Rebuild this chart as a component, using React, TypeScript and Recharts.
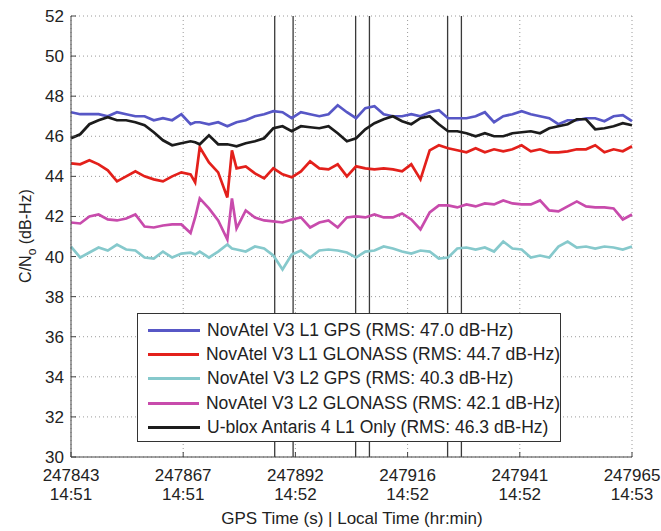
import { CartesianGrid, Legend, Line, LineChart, ReferenceLine, XAxis, YAxis } from "recharts";

// GPS time of week (s); 2 s steps, plus two extra samples where the L1/L2 GLONASS traces spike
const gpsTime = [
  247843, 247845, 247847, 247849, 247851, 247853, 247855, 247857, 247859, 247861, 247863, 247865, 247867, 247869,
  247870, 247871, 247873, 247875, 247877, 247878, 247879, 247881, 247883, 247885, 247887, 247889, 247891, 247893,
  247895, 247897, 247899, 247901, 247903, 247905, 247907, 247909, 247911, 247913, 247915, 247917, 247919, 247921,
  247923, 247925, 247927, 247929, 247931, 247933, 247935, 247937, 247939, 247941, 247943, 247945, 247947, 247949,
  247951, 247953, 247955, 247957, 247959, 247961, 247963, 247965,
];

const l1Gps = [
  47.2, 47.1, 47.1, 47.1, 47.0, 47.2, 47.1, 47.0, 47.0, 46.8, 46.9, 46.8, 47.1, 46.6,
  46.7, 46.7, 46.6, 46.7, 46.5, 46.6,
  46.7, 46.8, 47.0, 47.1, 47.25, 47.2, 46.9, 47.2, 47.1, 47.0, 47.1, 47.55, 47.2, 46.9, 47.4, 47.5, 47.1, 47.0,
  47.0, 47.1, 47.0, 47.2, 47.3, 46.9, 46.9, 46.9, 47.0, 47.2, 46.7, 47.0, 47.1, 47.25, 47.1, 47.0, 46.9, 46.6,
  46.8, 46.8, 46.9, 46.9, 46.75, 47.0, 47.05, 46.75,
];

const l1Glonass = [
  44.65, 44.6, 44.8, 44.6, 44.3, 43.75, 44.0, 44.25, 44.0, 43.85, 43.75, 44.0, 44.2, 44.1,
  43.7, 45.45, 44.7, 44.2, 42.95, 45.3,
  44.4, 44.5, 44.15, 43.9, 44.4, 44.1, 43.95, 44.25, 44.75, 44.4, 44.35, 44.6, 44.0, 44.5, 44.4, 44.35, 44.4, 44.35,
  44.25, 44.6, 43.85, 45.3, 45.55, 45.4, 45.3, 45.2, 45.4, 45.2, 45.35, 45.25, 45.35, 45.55, 45.25, 45.35, 45.2, 45.2,
  45.25, 45.35, 45.35, 45.55, 45.2, 45.35, 45.25, 45.5,
];

const l2Gps = [
  40.5, 39.95, 40.2, 40.45, 40.3, 40.6, 40.35, 40.3, 39.95, 39.9, 40.25, 39.95, 40.15, 40.2,
  40.1, 40.25, 39.95, 40.25, 40.6, 40.4,
  40.35, 40.25, 40.5, 40.4, 40.05, 39.35, 40.1, 40.3, 39.95, 40.3, 40.35, 40.3, 40.2, 39.95, 40.25, 40.3, 40.5, 40.4,
  40.25, 40.15, 40.3, 40.25, 39.9, 39.95, 40.4, 40.45, 40.35, 40.45, 40.25, 40.75, 40.4, 40.35, 39.95, 40.05, 39.95, 40.5,
  40.75, 40.45, 40.5, 40.4, 40.5, 40.45, 40.35, 40.5,
];

const l2Glonass = [
  41.7, 41.65, 42.0, 42.1, 41.85, 41.8, 41.9, 42.1, 41.5, 41.45, 41.55, 41.6, 41.6, 41.17,
  41.95, 42.9, 42.4, 41.8, 40.85, 42.9,
  41.4, 42.3, 41.95, 41.8, 41.75, 41.7, 41.85, 41.95, 41.45, 41.7, 41.8, 41.45, 41.95, 42.0, 41.95, 42.1, 41.95, 41.95,
  42.15, 41.85, 41.35, 42.2, 42.55, 42.55, 42.45, 42.6, 42.5, 42.65, 42.6, 42.8, 42.65, 42.6, 42.6, 42.8, 42.3, 42.25,
  42.5, 42.75, 42.5, 42.45, 42.45, 42.4, 41.85, 42.1,
];

const antaris = [
  45.9, 46.1, 46.6, 46.8, 46.95, 46.8, 46.8, 46.7, 46.55, 46.2, 45.8, 45.55, 45.65, 45.75,
  45.7, 45.6, 46.05, 45.6, 45.6, 45.55,
  45.5, 45.65, 45.75, 45.9, 46.4, 46.5, 46.25, 46.5, 46.45, 46.4, 46.5, 46.15, 45.75, 45.9, 46.35, 46.65, 46.85, 47.0,
  46.75, 46.6, 46.9, 47.0, 46.6, 46.25, 46.25, 46.15, 46.0, 46.15, 46.0, 46.0, 46.15, 46.2, 46.25, 46.15, 46.4, 46.5,
  46.6, 46.85, 46.85, 46.35, 46.4, 46.5, 46.65, 46.55,
];

const seriesNames = [
  "NovAtel V3 L1 GPS (RMS: 47.0 dB-Hz)",
  "NovAtel V3 L1 GLONASS (RMS: 44.7 dB-Hz)",
  "NovAtel V3 L2 GPS (RMS: 40.3 dB-Hz)",
  "NovAtel V3 L2 GLONASS (RMS: 42.1 dB-Hz)",
  "U-blox Antaris 4 L1 Only (RMS: 46.3 dB-Hz)",
];

const xTicks = [247843, 247867.4, 247891.8, 247916.2, 247940.6, 247965];
const gpsTickLabels = ["247843", "247867", "247892", "247916", "247941", "247965"];
const localTickLabels = ["14:51", "14:51", "14:52", "14:52", "14:52", "14:53"];
const yTicks = [30, 32, 34, 36, 38, 40, 42, 44, 46, 48, 50, 52];
const markerTimes = [247887.3, 247891.3, 247904.9, 247907.9, 247924.9, 247927.9];

const data = gpsTime.map((t, i) => ({
  t,
  l1Gps: l1Gps[i],
  l1Glonass: l1Glonass[i],
  l2Gps: l2Gps[i],
  l2Glonass: l2Glonass[i],
  antaris: antaris[i],
}));

const FONT = '"Liberation Sans", Arial, Helvetica, sans-serif';
const INK = "#222";

function TimeTick({ x, y, index }: { x?: number; y?: number; index?: number }) {
  const i = index ?? 0;
  return (
    <g fontFamily={FONT} fontSize={17} fill={INK}>
      <text x={x} y={(y ?? 0) + 29} textAnchor="middle">
        {gpsTickLabels[i]}
      </text>
      <text x={x} y={(y ?? 0) + 48} textAnchor="middle">
        {localTickLabels[i]}
      </text>
    </g>
  );
}

function BoxLegend({ payload }: { payload?: Array<{ value?: string; color?: string }> }) {
  // keep the plotting order, not recharts' alphabetical one
  const items = [...(payload ?? [])].sort(
    (a, b) => seriesNames.indexOf(a.value ?? "") - seriesNames.indexOf(b.value ?? "")
  );
  return (
    <div
      style={{
        boxSizing: "border-box",
        width: 424,
        height: 129,
        border: "1px solid #333",
        background: "#fff",
        paddingTop: 4,
        fontFamily: FONT,
        fontSize: 17.5,
        color: INK,
      }}
    >
      {items.map((p) => (
        <div key={p.value} style={{ display: "flex", alignItems: "center", height: 24.3, whiteSpace: "nowrap" }}>
          <span style={{ display: "inline-block", width: 52, height: 3, marginLeft: 10, marginRight: 7, background: p.color }} />
          <span>{p.value}</span>
        </div>
      ))}
    </div>
  );
}

export default function App() {
  return (
    <div style={{ position: "absolute", left: 0, top: 0, width: 661, height: 531, background: "#fff" }}>
      <LineChart width={661} height={531} data={data} margin={{ top: 16, right: 29, bottom: 0, left: 0 }}>
        <CartesianGrid stroke="#9a9a9a" strokeDasharray="1 3" />
        <XAxis
          dataKey="t"
          type="number"
          domain={[247843, 247965]}
          ticks={xTicks}
          interval={0}
          height={74}
          tickSize={-5}
          tickMargin={0}
          axisLine={{ stroke: "#444" }}
          tickLine={{ stroke: "#444" }}
          tick={<TimeTick />}
          label={{
            content: () => (
              <text x={352} y={524} textAnchor="middle" fontFamily={FONT} fontSize={17} fill={INK}>
                GPS Time (s) | Local Time (hr:min)
              </text>
            ),
          }}
        />
        <YAxis
          type="number"
          domain={[30, 52]}
          ticks={yTicks}
          interval={0}
          width={71}
          tickSize={-5}
          tickMargin={12}
          axisLine={{ stroke: "#444" }}
          tickLine={{ stroke: "#444" }}
          tick={{ fill: INK, fontSize: 17, fontFamily: FONT }}
          label={{
            content: () => (
              <text
                x={31}
                y={236}
                transform="rotate(-90, 31, 236)"
                textAnchor="middle"
                fontFamily={FONT}
                fontSize={16}
                fill={INK}
              >
                C/N
                <tspan fontSize={12} dy={5}>
                  o
                </tspan>
                <tspan dy={-5}> (dB-Hz)</tspan>
              </text>
            ),
          }}
        />
        {markerTimes.map((m) => (
          <ReferenceLine key={m} x={m} stroke="#3a3a3a" strokeWidth={1.3} />
        ))}
        <Line type="linear" dataKey="l1Gps" name={seriesNames[0]} stroke="#5757c6" strokeWidth={2.7} dot={false} isAnimationActive={false} />
        <Line type="linear" dataKey="l1Glonass" name={seriesNames[1]} stroke="#e3201b" strokeWidth={2.7} dot={false} isAnimationActive={false} />
        <Line type="linear" dataKey="l2Gps" name={seriesNames[2]} stroke="#86c9cc" strokeWidth={2.7} dot={false} isAnimationActive={false} />
        <Line type="linear" dataKey="l2Glonass" name={seriesNames[3]} stroke="#c84bac" strokeWidth={2.7} dot={false} isAnimationActive={false} />
        <Line type="linear" dataKey="antaris" name={seriesNames[4]} stroke="#1c1c1c" strokeWidth={2.7} dot={false} isAnimationActive={false} />
        <Legend
          layout="vertical"
          align="center"
          verticalAlign="middle"
          content={<BoxLegend />}
          wrapperStyle={{ left: 137, top: 313, width: 424, height: 129 }}
        />
      </LineChart>
    </div>
  );
}
